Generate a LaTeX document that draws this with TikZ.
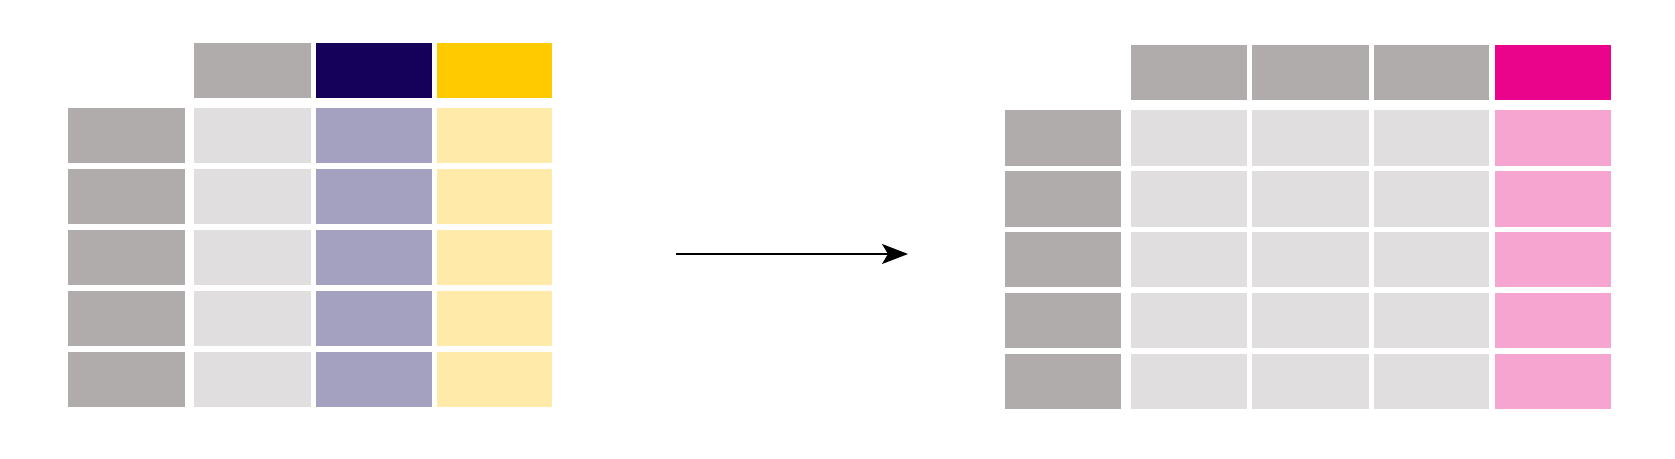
\documentclass[tikz,border=0pt]{standalone}
\usetikzlibrary{arrows.meta}
\definecolor{idxgray}{RGB}{176,172,171}
\definecolor{cellgray}{RGB}{224,222,223}
\definecolor{darkpurple}{RGB}{21,0,90}
\definecolor{lightpurple}{RGB}{163,160,192}
\definecolor{gold}{RGB}{255,202,0}
\definecolor{lightyellow}{RGB}{255,234,170}
\definecolor{magenta}{RGB}{234,3,139}
\definecolor{pink}{RGB}{246,165,208}
\tikzset{
  cellbox/.style={draw=white!90!black, line width=0.4pt},
}
\newcommand{\cellat}[6]{% name, x1, y1, x2, y2, color
  \fill[#6] (#2,#3) rectangle (#4,#5);
  \coordinate (#1) at ({(#2+#4)/2},{(#3+#5)/2});
}
\begin{document}
\begin{tikzpicture}[x=1pt,y=-1pt]
\useasboundingbox (0,0) rectangle (1675,458);
\fill[white] (0,0) rectangle (1675,458);
% ---------- left table ----------
\def\Lrows{{107.9,163.4},{168.8,224.3},{229.7,285.2},{290.6,346.1},{351.5,407.0}}
% header
\cellat{lh1}{194.4}{42.7}{310.9}{98.3}{idxgray}
\cellat{lh2}{316.2}{42.7}{431.6}{98.3}{darkpurple}
\cellat{lh3}{436.9}{42.7}{552.3}{98.3}{gold}
\foreach \a/\b [count=\i] in {107.9/163.4,168.8/224.3,229.7/285.2,290.6/346.1,351.5/407.0}{
  \fill[idxgray] (68.4,\a) rectangle (184.8,\b);
  \fill[cellgray] (194.4,\a) rectangle (310.9,\b);
  \fill[lightpurple] (316.2,\a) rectangle (431.6,\b);
  \fill[lightyellow] (436.9,\a) rectangle (552.3,\b);
}
% ---------- right table ----------
\cellat{rh1}{1131.3}{44.9}{1246.7}{100.4}{idxgray}
\cellat{rh2}{1252.0}{44.9}{1368.5}{100.4}{idxgray}
\cellat{rh3}{1373.8}{44.9}{1489.2}{100.4}{idxgray}
\cellat{rh4}{1494.6}{44.9}{1611.0}{100.4}{magenta}
\foreach \a/\b [count=\i] in {110.0/165.6,170.9/226.5,231.8/287.4,292.7/348.3,353.6/409.2}{
  \fill[idxgray] (1005.3,\a) rectangle (1120.6,\b);
  \fill[cellgray] (1131.3,\a) rectangle (1246.7,\b);
  \fill[cellgray] (1252.0,\a) rectangle (1368.5,\b);
  \fill[cellgray] (1373.8,\a) rectangle (1489.2,\b);
  \fill[pink] (1494.6,\a) rectangle (1611.0,\b);
}
% ---------- arrow ----------
\coordinate (arrowstart) at (676,254);
\coordinate (arrowend) at (908,254);
\draw[line width=1.6pt, -{Stealth[length=26pt,width=20pt,inset=6pt]}] (arrowstart) -- (arrowend);
\end{tikzpicture}
\end{document}
